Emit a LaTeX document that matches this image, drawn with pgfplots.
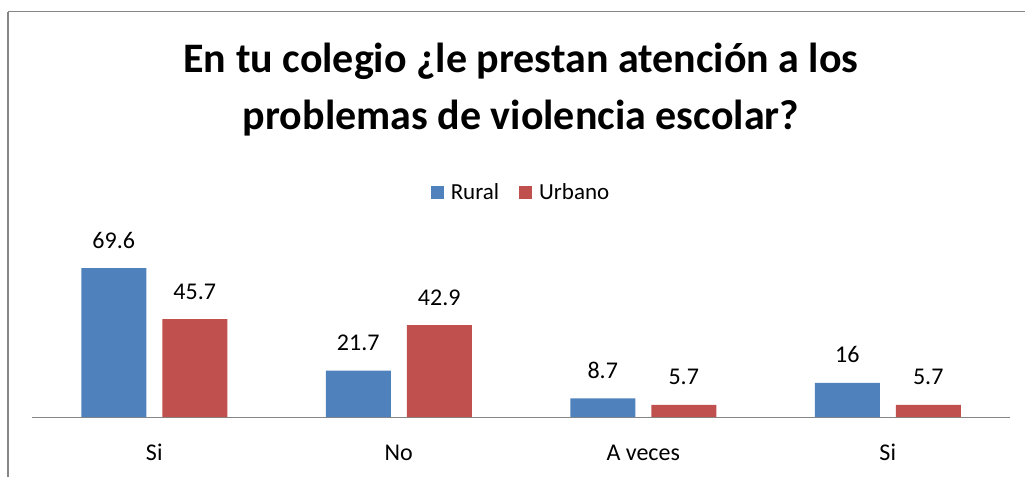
\documentclass[border=0pt]{standalone}
\usepackage{pgfplots}
\pgfplotsset{compat=1.18}
\usepackage{fontspec}
\setmainfont{Carlito}
\definecolor{rural}{HTML}{4F81BD}
\definecolor{urbano}{HTML}{C0504D}
\definecolor{axgray}{HTML}{868686}
\begin{document}
\begin{tikzpicture}[x=1pt,y=1pt]
\useasboundingbox (0,0) rectangle (1025,-477);
\draw[axgray, line width=1.2pt] (8,-477) -- (8,-11.5);
\draw[axgray, line width=1.2pt] (8,-11.5) -- (1025,-11.5);
\node[anchor=base, inner sep=0pt, font=\fontsize{42}{48}\selectfont\bfseries] at (521,-72) {En tu colegio ¿le prestan atención a los};
\node[anchor=base, inner sep=0pt, font=\fontsize{42}{48}\selectfont\bfseries] at (521,-129) {problemas de violencia escolar?};
\begin{axis}[
  at={(32pt,-417pt)}, anchor=south west,
  scale only axis, width=978pt, height=171.2pt,
  ymin=0, ymax=80, xmin=-0.5, xmax=3.5,
  axis y line=none, axis x line=bottom,
  x axis line style={-, axgray, line width=1pt},
  major tick length=0pt,
  ybar=16pt, bar width=65pt,
  xtick={0,1,2,3}, xticklabels={Si,No,A veces,Si},
  xticklabel style={anchor=base, yshift=-43pt, inner sep=0pt},
  ticklabel style={font=\fontsize{24}{28}\selectfont},
  /pgf/number format/assume math mode=true,
  nodes near coords,
  every node near coord/.append style={font=\fontsize{24}{28}\selectfont, anchor=base, yshift=20pt, inner sep=0pt, text=black},
  clip=false,
  legend style={at={(0.5,1.314)}, anchor=center, draw=none, fill=none, legend columns=2,
    font=\fontsize{23}{27}\selectfont,
    /tikz/every odd column/.append style={column sep=5pt},
    /tikz/every even column/.append style={column sep=18pt}},
  legend image code/.code={\fill[#1] (0pt,-6.5pt) rectangle (13pt,6.5pt);},
]
\addplot[fill=rural, draw=none] coordinates {(0,69.6) (1,21.7) (2,8.7) (3,16)};
\addplot[fill=urbano, draw=none] coordinates {(0,45.7) (1,42.9) (2,5.7) (3,5.7)};
\legend{Rural,Urbano}
\end{axis}
\end{tikzpicture}
\end{document}
